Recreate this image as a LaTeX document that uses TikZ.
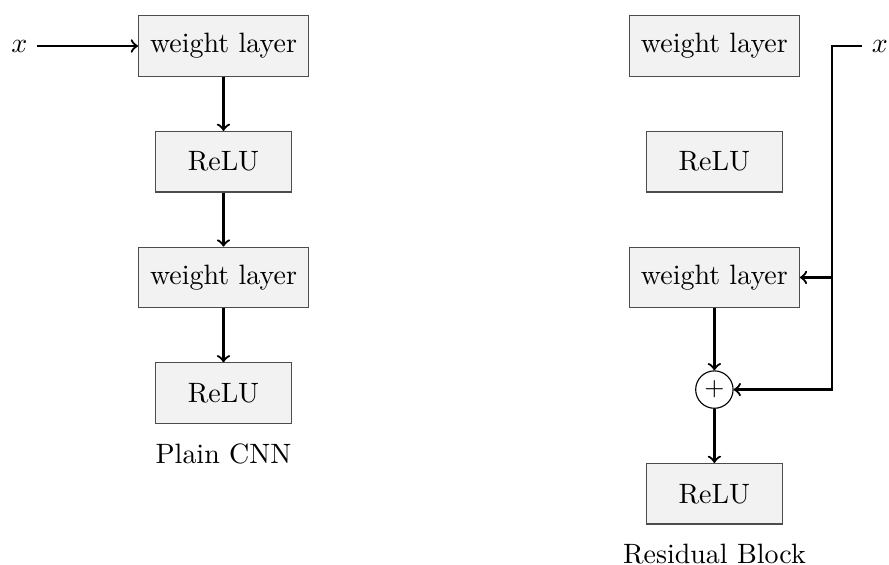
\documentclass[tikz,border=0pt]{standalone}
\usetikzlibrary{positioning}
\begin{document}
\begin{tikzpicture}[
layer/.style={draw=black!70,fill=gray!10,minimum width=1.71cm,minimum height=0.76cm,inner xsep=4.1pt},
sum/.style={draw,circle,minimum size=0.47cm,inner sep=0pt,font=\small},
conn/.style={->,thick},
node distance=0.68cm,]
\useasboundingbox (0,0) rectangle (11.17,-7.098);
\node[layer] (w1) at (2.808,-0.578) {weight layer};
\node[layer,below=of w1] (r1) {ReLU};
\node[layer,below=of r1] (w2) {weight layer};
\node[layer,below=of w2] (r2) {ReLU};
\node[below=0.12cm of r2] (plain) {Plain CNN};
\node (xl) at (0.243,-0.578) {$x$};

\node[layer] (wa) at (8.976,-0.578) {weight layer};
\node[layer,below=of wa] (ra) {ReLU};
\node[layer,below=of ra] (wb) {weight layer};
\node[sum,below=0.78cm of wb] (add) {$+$};
\node[layer,below=of add] (rb) {ReLU};
\node[below=0.12cm of rb] (res) {Residual Block};
\node (xr) at (11.055,-0.578) {$x$};
\coordinate (split) at (10.456,-0.578);

\draw[conn] (xl) -- (w1);
\draw[conn] (w1) -- (r1);
\draw[conn] (r1) -- (w2);
\draw[conn] (w2) -- (r2);

\draw[conn] (wb) -- (add);
\draw[conn] (add) -- (rb);
\draw[conn] (xr) -- (split) |- (add);
\draw[conn] (split |- wb) -- (wb);
\end{tikzpicture}
\end{document}
